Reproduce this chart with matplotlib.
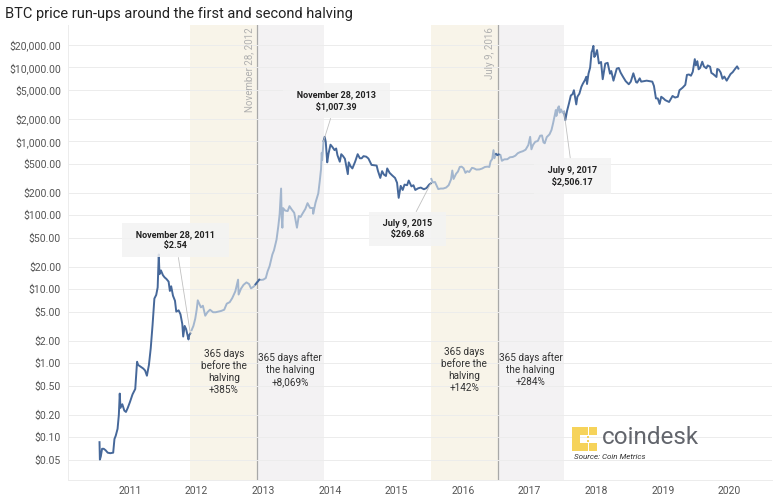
import numpy as np
import pandas as pd
import matplotlib
matplotlib.use("Agg")
import matplotlib.pyplot as plt
from matplotlib.ticker import FixedLocator, FuncFormatter

plt.rcParams['font.family'] = ['Roboto', 'DejaVu Sans']

# BTC price (USD)
dates = [
    "2010-07-18", "2010-07-20", "2010-07-25", "2010-08-01", "2010-08-10", "2010-08-20",
    "2010-09-01", "2010-09-15", "2010-10-01", "2010-10-08", "2010-10-15", "2010-10-25",
    "2010-11-01", "2010-11-06", "2010-11-10", "2010-11-20", "2010-12-01", "2010-12-10",
    "2010-12-20", "2011-01-01", "2011-01-15", "2011-01-30", "2011-02-09", "2011-02-15",
    "2011-03-01", "2011-03-15", "2011-03-25", "2011-04-04", "2011-04-15", "2011-04-25",
    "2011-05-05", "2011-05-15", "2011-05-25", "2011-06-02", "2011-06-08", "2011-06-12",
    "2011-06-20", "2011-07-01", "2011-07-10", "2011-07-20", "2011-08-01", "2011-08-08",
    "2011-08-15", "2011-08-25", "2011-09-05", "2011-09-12", "2011-09-25", "2011-10-05",
    "2011-10-15", "2011-10-20", "2011-10-28", "2011-11-05", "2011-11-18", "2011-11-22",
    "2011-11-28",
    "2011-12-05", "2011-12-15", "2011-12-25", "2012-01-02", "2012-01-08", "2012-01-15",
    "2012-01-25", "2012-02-05", "2012-02-18", "2012-03-01", "2012-03-15", "2012-04-01",
    "2012-04-15", "2012-05-01", "2012-05-15", "2012-06-01", "2012-06-15", "2012-07-01",
    "2012-07-15", "2012-08-01", "2012-08-16", "2012-08-19", "2012-09-01", "2012-09-15",
    "2012-10-01", "2012-10-15", "2012-10-26", "2012-11-10", "2012-11-20", "2012-11-28",
    "2012-12-10", "2012-12-20", "2013-01-01", "2013-01-15", "2013-01-25", "2013-02-05",
    "2013-02-20", "2013-03-01", "2013-03-15", "2013-03-25", "2013-04-01", "2013-04-09",
    "2013-04-12", "2013-04-16", "2013-04-20", "2013-05-01", "2013-05-15", "2013-05-25",
    "2013-06-05", "2013-06-20", "2013-07-05", "2013-07-15", "2013-07-25", "2013-08-05",
    "2013-08-20", "2013-09-01", "2013-09-15", "2013-10-01", "2013-10-02", "2013-10-15",
    "2013-10-30", "2013-11-07", "2013-11-14", "2013-11-18", "2013-11-20", "2013-11-28",
    "2013-12-04", "2013-12-10", "2013-12-18", "2013-12-25", "2014-01-05", "2014-01-15",
    "2014-01-27", "2014-02-05", "2014-02-12", "2014-02-25", "2014-03-05", "2014-03-15",
    "2014-03-25", "2014-04-01", "2014-04-10", "2014-04-15", "2014-04-25", "2014-05-05",
    "2014-05-20", "2014-06-03", "2014-06-15", "2014-06-25", "2014-07-05", "2014-07-20",
    "2014-08-01", "2014-08-18", "2014-09-01", "2014-09-15", "2014-09-22", "2014-10-05",
    "2014-10-15", "2014-10-25", "2014-11-05", "2014-11-12", "2014-11-25", "2014-12-10",
    "2014-12-25", "2015-01-05", "2015-01-14", "2015-01-25", "2015-02-05", "2015-02-15",
    "2015-03-01", "2015-03-10", "2015-03-25", "2015-04-05", "2015-04-15", "2015-05-01",
    "2015-05-15", "2015-06-01", "2015-06-15", "2015-06-30", "2015-07-09",
    "2015-07-12", "2015-07-20", "2015-08-01", "2015-08-19", "2015-09-01", "2015-09-15",
    "2015-10-01", "2015-10-15", "2015-10-28", "2015-11-04", "2015-11-11", "2015-11-25",
    "2015-12-05", "2015-12-15", "2015-12-25", "2016-01-05", "2016-01-15", "2016-01-25",
    "2016-02-05", "2016-02-20", "2016-03-01", "2016-03-15", "2016-04-01", "2016-04-15",
    "2016-05-01", "2016-05-15", "2016-05-25", "2016-06-01", "2016-06-10", "2016-06-17",
    "2016-06-22", "2016-07-01", "2016-07-09", "2016-07-15", "2016-07-25", "2016-08-02",
    "2016-08-15", "2016-09-01", "2016-09-15", "2016-10-01", "2016-10-15", "2016-10-28",
    "2016-11-10", "2016-11-25", "2016-12-10", "2016-12-25", "2017-01-04", "2017-01-11",
    "2017-01-20", "2017-02-01", "2017-02-15", "2017-02-28", "2017-03-10", "2017-03-18",
    "2017-03-25", "2017-04-05", "2017-04-20", "2017-05-01", "2017-05-10", "2017-05-25",
    "2017-05-28", "2017-06-06", "2017-06-11", "2017-06-15", "2017-06-22", "2017-07-01",
    "2017-07-09",
    "2017-07-16", "2017-07-25", "2017-08-05", "2017-08-15", "2017-08-25", "2017-09-01",
    "2017-09-14", "2017-09-20", "2017-10-01", "2017-10-12", "2017-10-20", "2017-11-01",
    "2017-11-08", "2017-11-12", "2017-11-20", "2017-11-29", "2017-12-07", "2017-12-11",
    "2017-12-17", "2017-12-22", "2017-12-28", "2018-01-06", "2018-01-16", "2018-01-28",
    "2018-02-06", "2018-02-20", "2018-03-05", "2018-03-18", "2018-03-25", "2018-04-06",
    "2018-04-24", "2018-05-05", "2018-05-15", "2018-05-29", "2018-06-12", "2018-06-29",
    "2018-07-10", "2018-07-24", "2018-08-08", "2018-08-14", "2018-08-28", "2018-09-05",
    "2018-09-20", "2018-10-05", "2018-10-20", "2018-11-05", "2018-11-14", "2018-11-20",
    "2018-11-25", "2018-12-05", "2018-12-15", "2018-12-24", "2019-01-05", "2019-01-15",
    "2019-02-05", "2019-02-24", "2019-03-10", "2019-03-25", "2019-04-03", "2019-04-20",
    "2019-05-05", "2019-05-14", "2019-05-25", "2019-06-05", "2019-06-15", "2019-06-26",
    "2019-07-02", "2019-07-10", "2019-07-17", "2019-07-25", "2019-08-06", "2019-08-15",
    "2019-08-28", "2019-09-05", "2019-09-18", "2019-09-25", "2019-10-05", "2019-10-23",
    "2019-10-27", "2019-11-05", "2019-11-15", "2019-11-25", "2019-12-05", "2019-12-18",
    "2019-12-28", "2020-01-08", "2020-01-20", "2020-01-30", "2020-02-13", "2020-02-20",
]
prices = [
    0.086, 0.05, 0.055, 0.07, 0.07, 0.067,
    0.062, 0.061, 0.062, 0.095, 0.105, 0.13,
    0.20, 0.39, 0.25, 0.28, 0.23, 0.22,
    0.25, 0.30, 0.38, 0.45, 1.05, 0.95,
    0.90, 0.85, 0.80, 0.68, 0.95, 1.6,
    3.3, 7.5, 8.4, 10.6, 29.6, 16.0,
    18.0, 15.5, 14.5, 13.8, 12.7, 9.5,
    11.0, 8.2, 7.0, 5.0, 5.2, 4.6,
    3.4, 2.3, 3.2, 2.9, 2.1, 2.4,
    2.54,
    2.8, 3.2, 4.0, 5.3, 7.1, 6.5,
    5.7, 6.0, 4.4, 4.9, 5.3, 4.9,
    4.9, 5.0, 5.1, 5.3, 6.4, 6.7,
    7.6, 9.4, 13.5, 8.5, 10.2, 11.5,
    12.4, 11.8, 10.3, 10.9, 11.7, 12.4,
    13.5, 13.4, 13.5, 14.2, 17.5, 20.6,
    29.5, 33.7, 47, 72, 104, 230,
    95, 68, 125, 116, 114, 133,
    121, 108, 68, 98, 95, 106,
    122, 146, 126, 125, 105, 149,
    198, 290, 420, 700, 560, 1007.39,
    1150, 980, 520, 680, 900, 840,
    760, 800, 650, 530, 670, 630,
    580, 470, 360, 520, 460, 430,
    530, 670, 590, 590, 630, 620,
    585, 480, 475, 470, 400, 320,
    395, 355, 340, 430, 375, 345,
    320, 275, 172, 250, 220, 260,
    255, 295, 246, 255, 220, 232,
    237, 225, 233, 260, 269.68,
    310, 278, 282, 226, 230, 230,
    237, 255, 305, 403, 310, 365,
    390, 450, 455, 432, 375, 395,
    385, 438, 432, 415, 417, 428,
    450, 455, 450, 535, 577, 760,
    590, 675, 650, 665, 655, 545,
    570, 573, 608, 615, 640, 690,
    715, 735, 770, 890, 1150, 780,
    895, 985, 1010, 1190, 1200, 970,
    940, 1140, 1240, 1420, 1760, 2650,
    2200, 2860, 2970, 2440, 2700, 2430,
    2506.17,
    1930, 2550, 3250, 4150, 4350, 4900,
    3150, 4000, 4400, 5450, 6000, 6750,
    7450, 5950, 8200, 9900, 16000, 17000,
    19500, 13800, 14600, 17100, 11300, 11800,
    6900, 11200, 11500, 8200, 8900, 6600,
    9600, 9800, 8500, 7400, 6500, 5900,
    6400, 8300, 6300, 6200, 7100, 6400,
    6500, 6600, 6500, 6400, 5600, 4500,
    3800, 3800, 3200, 4000, 3800, 3600,
    3400, 4100, 3900, 4000, 4900, 5300,
    5800, 7900, 8000, 7700, 8700, 12900,
    10600, 12100, 9400, 9800, 11900, 10300,
    9700, 10600, 10200, 8400, 8100, 7400,
    9500, 9300, 8500, 7000, 7500, 6600,
    7300, 8100, 8600, 9300, 10300, 9600,
]

halvings = ["2012-11-28", "2016-07-09"]
halving_labels = ["November 28, 2012", "July 9, 2016"]
window_text_before = ["365 days\nbefore the\nhalving\n+385%", "365 days\nbefore the\nhalving\n+142%"]
window_text_after = ["365 days after\nthe halving\n+8,069%", "365 days after\nthe halving\n+284%"]

callout_dates = ["2011-11-28", "2013-11-28", "2015-07-09", "2017-07-09"]
callout_labels = ["November 28, 2011\n$2.54", "November 28, 2013\n$1,007.39",
                  "July 9, 2015\n$269.68", "July 9, 2017\n$2,506.17"]

ytick_vals = [0.05, 0.1, 0.2, 0.5, 1, 2, 5, 10, 20, 50, 100, 200, 500,
              1000, 2000, 5000, 10000, 20000]
years = list(range(2011, 2021))

df = pd.DataFrame({"date": pd.to_datetime(dates), "price": prices})
hv = pd.to_datetime(halvings)
year = pd.Timedelta(days=365)

dark = "#46689a"
light = "#a3b6ce"

fig = plt.figure(figsize=(7.75, 5), dpi=100)
ax = fig.add_axes([0.0877, 0.04, 0.9083, 0.91])

# shaded windows + halving lines
for h in hv:
    ax.axvspan(h - year, h, color="#f8f4e9", lw=0, zorder=0)
    ax.axvspan(h, h + year, color="#f3f2f3", lw=0, zorder=0)
    ax.axvline(h, color="#a8a8a8", lw=0.9, zorder=1)

in_win = np.zeros(len(df), dtype=bool)
edge = np.zeros(len(df), dtype=bool)
near = np.zeros(len(df), dtype=bool)
for h in hv:
    in_win |= (df.date > h - year) & (df.date < h + year)
    edge |= (df.date == h - year) | (df.date == h + year)
    near |= (df.date - h).abs() <= pd.Timedelta(days=12)

ax.plot(df.date, df.price.where(~in_win), color=dark, lw=1.4, zorder=3)
ax.plot(df.date, df.price.where(in_win | edge), color=light, lw=1.4, zorder=3)
ax.plot(df.date, df.price.where(near), color=dark, lw=1.4, zorder=3)

ax.set_yscale("log")
ax.set_ylim(0.0265, 37300)
ax.set_xlim(pd.Timestamp("2010-01-26"), pd.Timestamp("2020-08-22"))
ax.yaxis.set_major_locator(FixedLocator(ytick_vals))
ax.yaxis.set_minor_locator(FixedLocator([]))
ax.yaxis.set_major_formatter(FuncFormatter(lambda v, p: "${:,.2f}".format(v)))
ax.set_xticks([pd.Timestamp(f"{y}-01-01") for y in years])
ax.set_xticklabels([str(y) for y in years])
ax.tick_params(axis="both", length=0, colors="#555555", labelsize=7.5)
ax.tick_params(axis="y", pad=5)
ax.tick_params(axis="x", pad=4)
ax.grid(axis="y", color="#ececec", lw=0.7, zorder=0)
for s in ["top", "right"]:
    ax.spines[s].set_visible(False)
for s in ["left", "bottom"]:
    ax.spines[s].set_color("#ececec")
    ax.spines[s].set_linewidth(0.7)

# halving labels
for h, lab in zip(hv, halving_labels):
    ax.text(h - pd.Timedelta(days=14), 0.995, lab, rotation=90, ha="right", va="top",
            transform=ax.get_xaxis_transform(), fontsize=7, color="#b0b0b0")

# window descriptions
for h, tb, ta, yb, ya in zip(hv, window_text_before, window_text_after,
                             [0.287, 0.293], [0.281, 0.281]):
    ax.text(h - year / 2, yb, tb, ha="center", va="top", transform=ax.get_xaxis_transform(),
            fontsize=7.2, color="#333333", linespacing=1.25)
    ax.text(h + year / 2, ya, ta, ha="center", va="top", transform=ax.get_xaxis_transform(),
            fontsize=7.2, color="#333333", linespacing=1.25)

# callouts
callout_pos = [(0.153, 0.527), (0.381, 0.834), (0.482, 0.552), (0.717, 0.668)]
for d, lab, pos in zip(callout_dates, callout_labels, callout_pos):
    row = df[df.date == pd.Timestamp(d)].iloc[0]
    padded = "\n".join("   " + s + "   " for s in lab.split("\n"))
    ax.annotate(padded, xy=(row.date, row.price), xytext=pos, textcoords="axes fraction",
                ha="center", va="center", fontsize=6.5, fontweight="bold", color="#222222",
                linespacing=1.3,
                bbox=dict(boxstyle="square,pad=0.8", fc="#f3f3f3", ec="none", alpha=0.85),
                arrowprops=dict(arrowstyle="-", color="#c0c0c0", lw=0.6,
                                shrinkA=0, shrinkB=0),
                zorder=5)

fig.text(0.006, 0.972, "BTC price run-ups around the first and second halving",
         fontsize=10.5, color="#222222", va="center", ha="left")

# coindesk logo
lax = fig.add_axes([0.737, 0.098, 0.034, 0.048])
lax.set_xlim(-0.5, 2.5)
lax.set_ylim(-0.5, 2.5)
lax.axis("off")
logo_x = [0, 0, 0, 1, 2, 1, 2]
logo_y = [0, 1, 2, 2, 2, 0, 0]
lax.scatter(logo_x, logo_y, s=38, marker="s", color="#f6d35a", lw=0)
lax.scatter([1.4, 1.4], [0.8, 1.2], s=4, marker="s", color="#f6d35a", lw=0)
fig.text(0.776, 0.125, "coindesk", fontsize=17.5, color="#62656c", va="center", ha="left")
fig.text(0.741, 0.086, "Source: Coin Metrics", fontsize=5.8, color="#333333",
         style="italic", va="center", ha="left")

fig.savefig("out.png", dpi=100)
